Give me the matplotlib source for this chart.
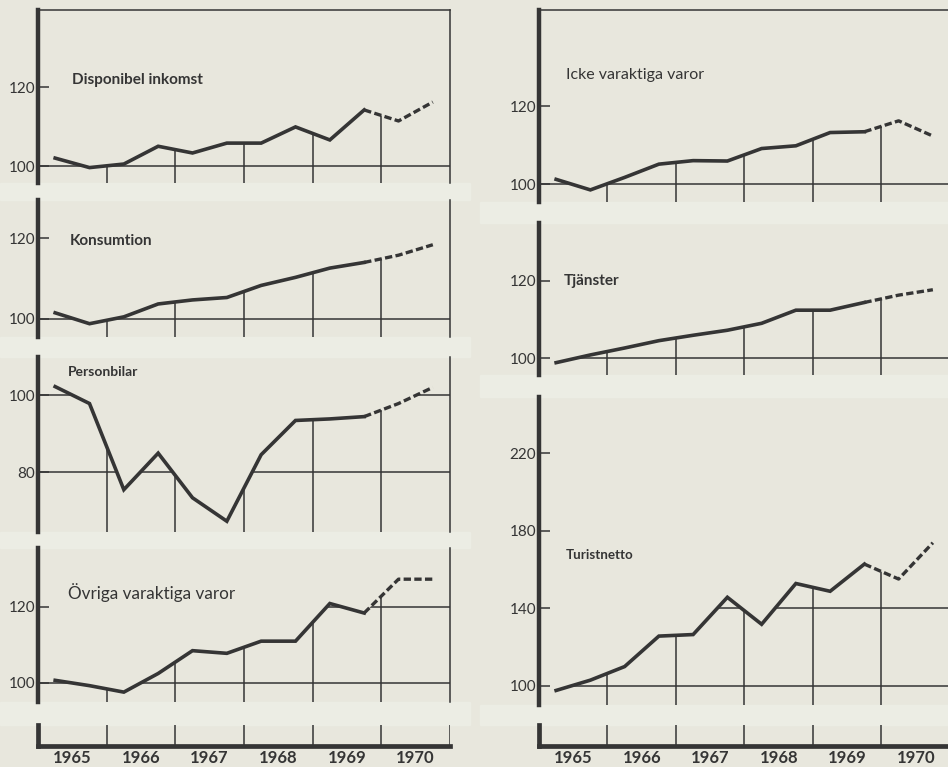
import numpy as np
import matplotlib
matplotlib.use('Agg')
import matplotlib.pyplot as plt
from matplotlib.patches import Polygon, Rectangle

W, H = 948, 767

# half-year points, 1965 H1 .. 1970 H2 (last three are forecast, dashed)
half_years = [1965.25, 1965.75, 1966.25, 1966.75, 1967.25, 1967.75,
              1968.25, 1968.75, 1969.25, 1969.75, 1970.25, 1970.75]
year_labels = ['1965', '1966', '1967', '1968', '1969', '1970']

disponibel = [102.0, 99.6, 100.5, 105.0, 103.3, 105.8, 105.8, 109.9, 106.6, 114.2, 111.4, 116.2]
konsumtion = [101.5, 98.8, 100.5, 103.7, 104.7, 105.3, 108.3, 110.3, 112.6, 114.0, 115.8, 118.4]
personbilar = [102.2, 97.8, 75.4, 84.9, 73.3, 67.2, 84.5, 93.4, 93.8, 94.4, 97.8, 102.0]
ovriga = [100.7, 99.3, 97.6, 102.5, 108.5, 107.8, 111.0, 111.0, 120.9, 118.4, 127.3, 127.3]
icke = [101.2, 98.5, 101.7, 105.1, 106.0, 105.9, 109.1, 109.8, 113.2, 113.4, 116.2, 112.3]
tjanster = [98.8, 100.8, 102.6, 104.5, 105.9, 107.2, 109.0, 112.4, 112.4, 114.4, 116.3, 117.7]
turistnetto = [97.7, 103.0, 110.0, 125.7, 126.5, 145.7, 131.8, 152.8, 148.8, 162.8, 155.1, 173.8]

INK = '#353535'
BG = '#E8E7DD'
GAP = '#ECEDE4'

plt.rcParams['font.family'] = ['Lato', 'DejaVu Sans']

fig = plt.figure(figsize=(W / 100, H / 100), dpi=100)
fig.patch.set_facecolor(BG)


def px_rect(l, t, r, b):
    return [l / W, 1 - b / H, (r - l) / W, (b - t) / H]


def gap(l, t, r, b):
    fig.patches.append(Rectangle((l / W, 1 - b / H), (r - l) / W, (b - t) / H,
                                 transform=fig.transFigure, color=GAP, zorder=-5))


for t, b in [(183, 200), (337, 357), (532, 548), (702, 725)]:
    gap(0, t, 470, b)
for t, b in [(202, 223), (375, 397), (705, 725)]:
    gap(480, t, W, b)


def panel(l, t, r, b, values, ylim, yticks, top=False):
    ax = fig.add_axes(px_rect(l, t, r, b))
    ax.set_facecolor('none')
    ax.set_xlim(1965, 1971)
    ax.set_ylim(*ylim)

    # area under the curve, used to clip the grid
    xs = [1965] + half_years + [1971, 1971, 1965]
    ys = [values[0]] + values + [values[-1], ylim[0], ylim[0]]
    clip = Polygon(np.column_stack([xs, ys]), closed=True,
                   facecolor='none', edgecolor='none', transform=ax.transData)
    ax.add_patch(clip)

    for lev in yticks:
        gl = ax.axhline(lev, color=INK, lw=1.1, zorder=1)
        gl.set_clip_path(clip)
    vl = ax.vlines([1966, 1967, 1968, 1969, 1970], ylim[0], ylim[1],
                   color=INK, lw=1.1, zorder=1)
    vl.set_clip_path(clip)

    ax.plot(half_years[:10], values[:10], color=INK, lw=2.6,
            solid_joinstyle='miter', zorder=3)
    ax.plot(half_years[9:], values[9:], color=INK, lw=2.4,
            linestyle=(0, (2.2, 1.0)), zorder=3)

    ax.spines['left'].set_linewidth(3.2)
    ax.spines['left'].set_color(INK)
    ax.spines['right'].set_linewidth(1.1)
    ax.spines['right'].set_color(INK)
    ax.spines['bottom'].set_visible(False)
    if top:
        ax.spines['top'].set_linewidth(1.1)
        ax.spines['top'].set_color(INK)
    else:
        ax.spines['top'].set_visible(False)

    ax.set_xticks([])
    ax.set_yticks(yticks)
    ax.set_yticklabels([str(v) for v in yticks])
    ax.tick_params(axis='y', direction='in', length=8, width=1.1,
                   pad=2, labelsize=11, colors=INK)
    return ax


def bottom_axis(l, r):
    ax = fig.add_axes(px_rect(l, 725, r, 746))
    ax.set_facecolor('none')
    ax.set_xlim(1965, 1971)
    ax.set_ylim(0, 1)
    ax.vlines([1966, 1967, 1968, 1969, 1970, 1971], 0, 1, color=INK, lw=1.1)
    for s in ['top', 'right']:
        ax.spines[s].set_visible(False)
    for s in ['left', 'bottom']:
        ax.spines[s].set_linewidth(3.4)
        ax.spines[s].set_color(INK)
    ax.set_yticks([])
    ax.set_xticks([y + 0.5 for y in range(1965, 1971)])
    ax.set_xticklabels(year_labels, fontsize=12, fontweight='bold', color=INK)
    ax.tick_params(axis='x', length=0, pad=3)
    return ax


# left column
panel(38, 10, 450, 183, disponibel, (95.7, 139.5), [100, 120], top=True)
panel(38, 200, 450, 337, konsumtion, (95.5, 129.5), [100, 120])
panel(38, 357, 450, 532, personbilar, (64.4, 109.9), [80, 100])
panel(38, 548, 450, 702, ovriga, (95.0, 135.5), [100, 120])
bottom_axis(38, 450)

# right column
panel(539, 10, 950, 202, icke, (95.4, 144.6), [100, 120], top=True)
panel(539, 223, 950, 375, tjanster, (95.6, 135.0), [100, 120])
panel(539, 397, 950, 705, turistnetto, (90.2, 248.9), [100, 140, 180, 220])
bottom_axis(539, 950)


def title(x, y, s, size, weight):
    fig.text(x / W, 1 - y / H, s, fontsize=size, fontweight=weight,
             color=INK, ha='left', va='center')


title(72, 80, 'Disponibel inkomst', 11, 'bold')
title(70, 241, 'Konsumtion', 11, 'bold')
title(68, 372, 'Personbilar', 10, 'bold')
title(68, 593, 'Övriga varaktiga varor', 12.3, 'normal')
title(566, 75, 'Icke varaktiga varor', 11.5, 'normal')
title(564, 281, 'Tjänster', 11, 'bold')
title(566, 555, 'Turistnetto', 9.6, 'bold')

fig.savefig('out.png', dpi=100, facecolor=fig.get_facecolor())
